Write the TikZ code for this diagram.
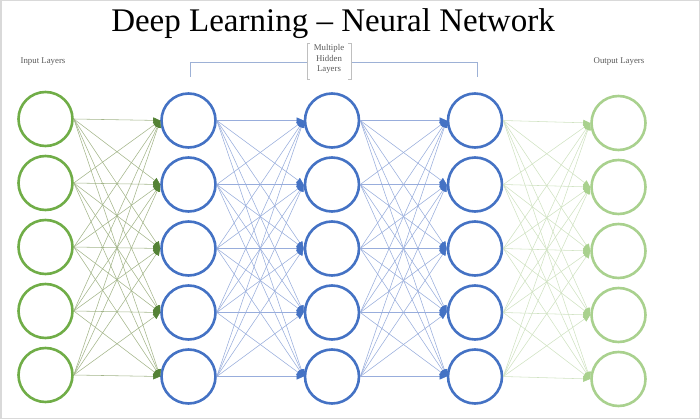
\documentclass[tikz,border=0pt]{standalone}
\usepackage{fontspec}
\setmainfont{Liberation Serif}
\usetikzlibrary{arrows.meta}
\definecolor{ingreen}{HTML}{70AD47}
\definecolor{inline}{HTML}{A3B58A}
\definecolor{intip}{HTML}{548235}
\definecolor{hblue}{HTML}{4472C4}
\definecolor{hline}{HTML}{98ADDC}
\definecolor{outgreen}{HTML}{A9D18E}
\definecolor{outline}{HTML}{D0E2C2}
\definecolor{brk}{HTML}{9DB1D6}
\definecolor{lbl}{HTML}{595959}
\begin{document}
\begin{tikzpicture}[x=1pt,y=-1pt,
  neuron/.style={circle,draw,line width=2.6pt,minimum size=54pt,inner sep=0pt,fill=white},
  innode/.style={neuron,draw=ingreen},
  hidnode/.style={neuron,draw=hblue},
  outnode/.style={neuron,draw=outgreen},
  conn/.style={line width=0.55pt},
  inconn/.style={conn,draw=inline,arrows={-{Triangle[length=7pt,width=6pt,color=intip]}}},
  hidconn/.style={conn,draw=hline,arrows={-{Triangle[length=7pt,width=6pt,color=hblue]}}},
  outconn/.style={conn,draw=outline,arrows={-{Triangle[length=7pt,width=6pt,color=outgreen]}}},
  smalllbl/.style={font=\fontsize{8.8}{10}\selectfont,text=lbl,inner sep=0pt,anchor=base}]
\useasboundingbox (0,0) rectangle (700,419);
\draw[black!15,line width=1.5pt] (0.75,0.75) rectangle (699.25,418.25);
% title
\node[anchor=base,inner sep=0pt,font=\fontsize{33}{38}\selectfont] (title) at (333,32) {Deep Learning -- Neural Network};
% labels
\node[smalllbl] (inlbl) at (43,64) {Input Layers};
\node[smalllbl] (outlbl) at (619,64) {Output Layers};
\node[smalllbl] (m1) at (329,51) {Multiple};
\node[smalllbl] (m2) at (329,61.5) {Hidden};
\node[smalllbl] (m3) at (329,72) {Layers};
% bracket
\coordinate (bl) at (190,77);
\coordinate (blt) at (190,62);
\coordinate (br) at (477,77);
\coordinate (brt) at (477,62);
\coordinate (bxl) at (307,62);
\coordinate (bxr) at (351,62);
\draw[brk,line width=0.8pt] (bl) -- (blt) -- (bxl);
\draw[brk,line width=0.8pt] (br) -- (brt) -- (bxr);
\draw[black!25,line width=0.8pt] (310,43) -- (307,43) -- (307,79) -- (310,79);
\draw[black!25,line width=0.8pt] (348,43) -- (351,43) -- (351,79) -- (348,79);
% neurons
\foreach \k in {1,...,5}{
  \pgfmathsetmacro{\yi}{119+64*(\k-1)}
  \pgfmathsetmacro{\yh}{120.5+64*(\k-1)}
  \pgfmathsetmacro{\yo}{123+64*(\k-1)}
  \node[innode] (i\k) at (45.5,\yi) {};
  \node[hidnode] (a\k) at (188.5,\yh) {};
  \node[hidnode] (b\k) at (332,\yh) {};
  \node[hidnode] (c\k) at (475,\yh) {};
  \node[outnode] (o\k) at (618.5,\yo) {};
}
% connectors
\foreach \j in {1,...,5}{
  \foreach \k in {1,...,5}{
    \draw[inconn] (i\j.east) -- (a\k.west);
    \draw[hidconn] (a\j.east) -- (b\k.west);
    \draw[hidconn] (b\j.east) -- (c\k.west);
    \draw[outconn] (c\j.east) -- (o\k.west);
  }
}
\end{tikzpicture}
\end{document}
